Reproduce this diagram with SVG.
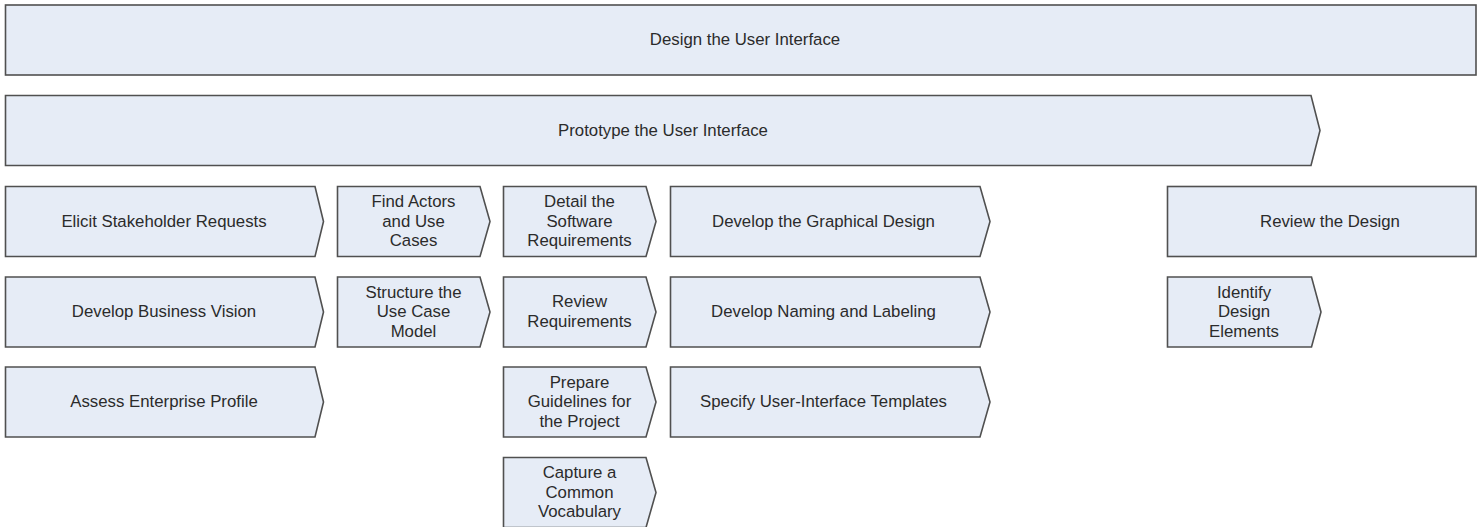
<svg xmlns="http://www.w3.org/2000/svg" width="1477" height="527" viewBox="0 0 1477 527">
  <style>
    .box { fill: #e6ecf6; stroke: #505050; stroke-width: 1.6; stroke-linejoin: miter; }
    .lbl { font-family: "Liberation Sans", Arial, sans-serif; font-size: 16.8px; fill: #2b2b2b; text-anchor: middle; }
  </style>
  <rect width="1477" height="527" fill="#ffffff"/>

  <!-- connectors: this activity map has none -->
  <g id="connectors"></g>

  <!-- row 0 -->
  <g id="design-ui">
    <rect class="box" x="5.5" y="5" width="1470.5" height="70"/>
    <text class="lbl" x="745" y="45.2">Design the User Interface</text>
  </g>

  <!-- row 1 -->
  <g id="prototype-ui">
    <path class="box" d="M5.5,95.5 H1311 L1320,130.5 L1311,165.5 H5.5 Z"/>
    <text class="lbl" x="663" y="135.7">Prototype the User Interface</text>
  </g>

  <!-- row 2 -->
  <g id="elicit-requests">
    <path class="box" d="M5.5,186.5 H315 L323.5,221.5 L315,256.5 H5.5 Z"/>
    <text class="lbl" x="164" y="226.7">Elicit Stakeholder Requests</text>
  </g>
  <g id="find-actors">
    <path class="box" d="M337.5,186.5 H480 L490,221.5 L480,256.5 H337.5 Z"/>
    <text class="lbl" x="413.5" y="226.7"><tspan x="413.5" dy="-19.7">Find Actors</tspan><tspan x="413.5" dy="19.7">and Use</tspan><tspan x="413.5" dy="19.7">Cases</tspan></text>
  </g>
  <g id="detail-requirements">
    <path class="box" d="M503.5,186.5 H646 L656,221.5 L646,256.5 H503.5 Z"/>
    <text class="lbl" x="579.5" y="226.7"><tspan x="579.5" dy="-19.7">Detail the</tspan><tspan x="579.5" dy="19.7">Software</tspan><tspan x="579.5" dy="19.7">Requirements</tspan></text>
  </g>
  <g id="graphical-design">
    <path class="box" d="M670.5,186.5 H980 L990,221.5 L980,256.5 H670.5 Z"/>
    <text class="lbl" x="823.5" y="226.7">Develop the Graphical Design</text>
  </g>
  <g id="review-design">
    <rect class="box" x="1167.5" y="186.5" width="308.5" height="70"/>
    <text class="lbl" x="1330" y="226.7">Review the Design</text>
  </g>

  <!-- row 3 -->
  <g id="business-vision">
    <path class="box" d="M5.5,277 H315 L323.5,312 L315,347 H5.5 Z"/>
    <text class="lbl" x="164" y="317.2">Develop Business Vision</text>
  </g>
  <g id="structure-use-case">
    <path class="box" d="M337.5,277 H480 L490,312 L480,347 H337.5 Z"/>
    <text class="lbl" x="413.5" y="317.2"><tspan x="413.5" dy="-19.7">Structure the</tspan><tspan x="413.5" dy="19.7">Use Case</tspan><tspan x="413.5" dy="19.7">Model</tspan></text>
  </g>
  <g id="review-requirements">
    <path class="box" d="M503.5,277 H646 L656,312 L646,347 H503.5 Z"/>
    <text class="lbl" x="579.5" y="317.2"><tspan x="579.5" dy="-9.85">Review</tspan><tspan x="579.5" dy="19.7">Requirements</tspan></text>
  </g>
  <g id="naming-labeling">
    <path class="box" d="M670.5,277 H980 L990,312 L980,347 H670.5 Z"/>
    <text class="lbl" x="823.5" y="317.2">Develop Naming and Labeling</text>
  </g>
  <g id="identify-elements">
    <path class="box" d="M1167.5,277 H1311.5 L1321,312 L1311.5,347 H1167.5 Z"/>
    <text class="lbl" x="1244" y="317.2"><tspan x="1244" dy="-19.7">Identify</tspan><tspan x="1244" dy="19.7">Design</tspan><tspan x="1244" dy="19.7">Elements</tspan></text>
  </g>

  <!-- row 4 -->
  <g id="enterprise-profile">
    <path class="box" d="M5.5,367 H315 L323.5,402 L315,437 H5.5 Z"/>
    <text class="lbl" x="164" y="407.2">Assess Enterprise Profile</text>
  </g>
  <g id="project-guidelines">
    <path class="box" d="M503.5,367 H646 L656,402 L646,437 H503.5 Z"/>
    <text class="lbl" x="579.5" y="407.2"><tspan x="579.5" dy="-19.7">Prepare</tspan><tspan x="579.5" dy="19.7">Guidelines for</tspan><tspan x="579.5" dy="19.7">the Project</tspan></text>
  </g>
  <g id="ui-templates">
    <path class="box" d="M670.5,367 H980 L990,402 L980,437 H670.5 Z"/>
    <text class="lbl" x="823.5" y="407.2">Specify User-Interface Templates</text>
  </g>

  <!-- row 5 -->
  <g id="common-vocabulary">
    <path class="box" d="M503.5,457.5 H646 L656,492.5 L646,527.5 H503.5 Z"/>
    <text class="lbl" x="579.5" y="497.7"><tspan x="579.5" dy="-19.7">Capture a</tspan><tspan x="579.5" dy="19.7">Common</tspan><tspan x="579.5" dy="19.7">Vocabulary</tspan></text>
  </g>
</svg>
